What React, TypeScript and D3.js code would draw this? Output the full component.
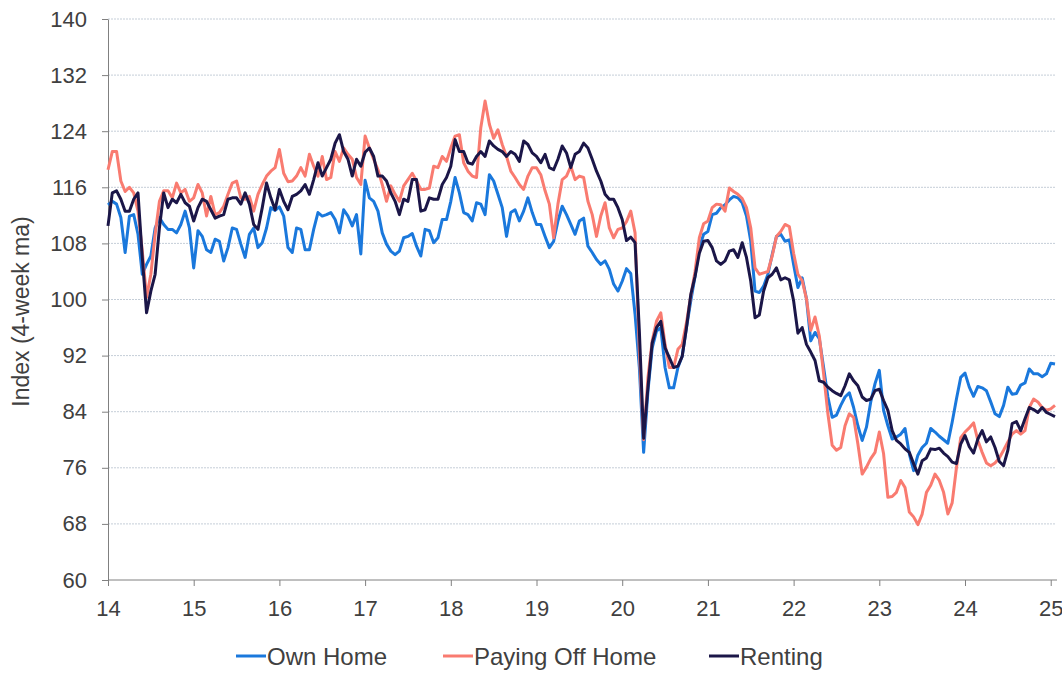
import React, { useEffect, useRef } from "react";
import * as d3 from "d3";

// weekly-ish index readings, one value every 0.05 of a year starting at 2014.0
const step = 0.05;
const startYear = 14;

const ownHome = [
  113.5, 114, 113.6, 111.7, 106.7, 111.9, 112.1, 109.3, 103.6, 105,
  106.2, 110.2, 111.7, 110.7, 110, 110, 109.5, 110.7, 112.6, 110.2,
  104.5, 109.8, 109, 107.1, 106.7, 108.6, 108.3, 105.5, 107.4, 110.2,
  110, 107.9, 106, 109.3, 110.2, 107.4, 108.1, 110.2, 113.1, 112.7,
  113.2, 111.9, 107.4, 106.7, 110.2, 110, 107.1, 107.1, 110, 112.4,
  111.9, 112.1, 112.4, 111.4, 109.5, 112.8, 111.9, 110.5, 112.1, 106.5,
  117, 114.5, 114, 112.6, 109.5, 107.9, 106.9, 106.4, 106.9, 108.8,
  109, 109.4, 107.6, 106.2, 110, 109.8, 108.1, 108.8, 111.4, 111.4,
  114, 117.4, 115.2, 112.4, 112.1, 111.2, 113.8, 113.6, 112.1, 117.8,
  116.9, 115, 113.1, 109, 112.4, 112.8, 111.2, 112.6, 114.5, 112.4,
  110.7, 110.7, 109, 107.4, 108.3, 111.2, 113.3, 112.1, 110.7, 109.3,
  111.2, 111.6, 107.6, 106.7, 105.7, 105, 105.5, 104.3, 102.2, 101.2,
  102.6, 104.4, 103.7, 97.9, 90.3, 78.2, 86.9, 93.1, 95.5, 96,
  90.3, 87.4, 87.4, 90.3, 91.9, 96, 99.8, 103.3, 107.4, 109.3,
  109.7, 112.1, 112.3, 113.1, 113.5, 114.2, 114.7, 114.5, 113.8, 111.9,
  108.3, 101.2, 101, 101.9, 103.6, 106.4, 109, 109.3, 108.3, 108.5,
  105, 101.7, 103.1, 100.1, 94.1, 95.3, 94.4, 90.3, 86.1, 83.2,
  83.5, 84.9, 86.1, 86.7, 84.6, 82, 79.9, 81.8, 85.4, 88,
  89.9, 84.2, 82, 80.1, 80.4, 80.8, 81.6, 78, 75.6, 77.8,
  78.9, 79.5, 81.6, 81.1, 80.5, 80, 79.5, 82.5, 85.8, 88.9,
  89.5, 87.5, 86.2, 87.6, 87.4, 87, 85.4, 83.7, 83.3, 84.9,
  87.5, 86.5, 86.6, 87.8, 88.1, 90.1, 89.4, 89.4, 89, 89.4,
  90.9, 90.8,
];

const payingOffHome = [
  118.5, 121.1, 121.1, 116.9, 115.4, 116, 115.2, 112.6, 106.9, 100.3,
  103.6, 109.3, 114, 115.5, 115.5, 114.5, 116.6, 115.2, 115.7, 114,
  114.5, 116.4, 115.2, 111.9, 114.7, 112.1, 112.4, 113.3, 115, 116.6,
  116.9, 114.5, 114.3, 114.7, 112.6, 115, 116.4, 117.6, 118.3, 118.8,
  121.4, 118, 116.8, 116.9, 117.6, 118.8, 117.6, 120.7, 119, 117.6,
  120.4, 117.1, 117.4, 121.1, 119.7, 121.6, 120.7, 120, 117.4, 116.4,
  123.3, 121.6, 120, 118.5, 116.4, 114, 116.2, 115, 114, 116.2,
  117.1, 118, 116.9, 115.7, 115.7, 115.9, 119, 118.8, 120.4, 119.7,
  121.6, 123.3, 123.5, 119.5, 118.3, 117.6, 117.4, 124.5, 128.3, 125,
  123, 124.2, 122.1, 120.4, 118.3, 117.4, 116.4, 115.7, 117.6, 118.8,
  118.8, 117.8, 115.5, 113.6, 108.8, 113.6, 117.1, 117.6, 119, 117.1,
  117.6, 117.4, 114, 112.1, 109, 111.9, 113.8, 110.2, 108.8, 110,
  110.2, 111.1, 112.6, 109.5, 92.6, 80, 88.8, 94.1, 96.9, 98.1,
  93.6, 90.3, 90.3, 92.9, 93.6, 96.7, 100.5, 104, 108.8, 110.8,
  111.2, 113.1, 113.6, 113.5, 112.6, 115.9, 115.4, 115, 114.4, 113.1,
  110.2, 104.5, 103.6, 103.8, 104, 106.2, 109, 109.7, 110.7, 110.4,
  106.6, 103.6, 102.7, 100.1, 95.6, 97.5, 94.8, 89.4, 83.7, 79.2,
  78.5, 78.9, 82, 83.7, 83.2, 79.4, 75.1, 76.1, 77.3, 78.2,
  81.1, 78, 71.8, 71.9, 72.5, 74.2, 73.2, 69.7, 69, 67.9,
  69.4, 72.5, 73.5, 75.1, 74.2, 72.5, 69.4, 71, 76, 80.3,
  81.1, 81.7, 82.4, 79.9, 78.2, 76.7, 76.3, 76.7, 77.4, 78.5,
  79.7, 80.8, 81.3, 80.8, 81.3, 84.6, 85.8, 85.4, 84.6, 84.2,
  84.4, 84.9,
];

const renting = [
  110.5, 115.2, 115.5, 114.3, 112.6, 112.6, 114.3, 115.2, 106, 98.1,
  101.2, 103.6, 110.2, 115.2, 113.1, 114.3, 113.8, 115, 113.8, 113.3,
  111.2, 113.1, 114.3, 114, 112.8, 111.6, 111.9, 112.1, 114.3, 114.5,
  114.5, 113.6, 115.2, 113.6, 110.7, 110, 113.1, 116.6, 114.5, 112.8,
  115.7, 114, 112.8, 114.7, 115, 115.5, 116.4, 115, 117.1, 119.5,
  117.6, 118.8, 120, 122.3, 123.5, 121.1, 120, 117.6, 120, 119,
  121, 121.6, 120.4, 117.6, 117.6, 116.9, 115.2, 114, 112.1, 114.3,
  114, 117.1, 117.1, 112.6, 112.8, 114.5, 114.3, 114.3, 116.4, 117.4,
  119, 122.8, 121.1, 121.1, 119.5, 119.3, 120.4, 121.1, 120.4, 122.6,
  121.9, 121.4, 121.1, 120.4, 121.1, 120.7, 119.7, 122.6, 122.1, 120.9,
  120.4, 119.5, 120.7, 118.8, 118.5, 120, 121.9, 120.9, 118.8, 120.7,
  121.1, 122.3, 121.6, 120, 118.3, 116.9, 115, 114.3, 114.3, 113.1,
  111.4, 108.4, 108.9, 108.1, 95.5, 80.2, 87.4, 93.8, 96, 96.9,
  93.1, 91.7, 90.3, 90.5, 91.9, 96, 100.7, 103.3, 106.6, 108.3,
  108.4, 107.4, 105.5, 105, 105.5, 106.9, 107.1, 106, 108.1, 106,
  102.6, 97.4, 97.8, 101.2, 103.1, 103.6, 104.5, 102.8, 103.1, 102.8,
  99.8, 95.2, 96, 93.6, 92.5, 91.3, 88.4, 88.2, 87.5, 87,
  86.6, 86.3, 87.7, 89.4, 88.4, 87.7, 86.1, 85.6, 85.8, 87,
  87.2, 85.6, 84.2, 81.3, 79.9, 79.4, 78.7, 78.2, 76.6, 75.1,
  77, 77.4, 78.7, 78.6, 78.8, 78.1, 77.6, 76.8, 76.6, 79.4,
  80.6, 79, 78.1, 80.1, 81.3, 79.7, 80.4, 78.9, 76.9, 76.3,
  78.5, 82.3, 82.6, 81.3, 83, 84.6, 84.3, 83.9, 84.6, 83.9,
  83.6, 83.3,
];

const xTicks = [14, 15, 16, 17, 18, 19, 20, 21, 22, 23, 24, 25];
const yTicks = [60, 68, 76, 84, 92, 100, 108, 116, 124, 132, 140];

const seriesNames = ["Own Home", "Paying Off Home", "Renting"];
const seriesColors = ["#1a78dc", "#f97b70", "#1b1648"];
const seriesValues = [ownHome, payingOffHome, renting];

function Chart() {
  const svgRef = useRef<SVGSVGElement>(null);

  useEffect(() => {
    const w = 1062;
    const h = 673;
    const left = 108;
    const right = 1055;
    const top = 19;
    const bottom = 580;
    const font = "'Liberation Sans', Arial, sans-serif";
    const textColor = "#404040";

    const svg = d3.select(svgRef.current).attr("width", w).attr("height", h);
    svg.selectAll("*").remove();

    const x = d3.scaleLinear().domain([14, 25.05]).range([left, right]);
    const y = d3.scaleLinear().domain([60, 140]).range([bottom, top]);

    // gridlines
    svg
      .append("g")
      .selectAll("line")
      .data(yTicks.slice(1))
      .join("line")
      .attr("x1", left)
      .attr("x2", right)
      .attr("y1", (d) => y(d))
      .attr("y2", (d) => y(d))
      .attr("stroke", "#c5ced8")
      .attr("stroke-width", 1)
      .attr("stroke-dasharray", "2,1");

    // y axis
    const yAxis = d3.axisLeft(y).tickValues(yTicks).tickSize(6).tickPadding(15).tickSizeOuter(0);
    const gy = svg.append("g").attr("transform", `translate(${left},0)`).call(yAxis);
    gy.selectAll("line").attr("stroke", "#808080");
    gy.select(".domain").attr("stroke", "#808080");
    gy.selectAll("text")
      .style("font-family", font)
      .style("font-size", "22px")
      .attr("fill", textColor);

    // x axis
    const xAxis = d3
      .axisBottom(x)
      .tickValues(xTicks)
      .tickFormat(d3.format("d"))
      .tickSize(6)
      .tickPadding(14)
      .tickSizeOuter(0);
    const gx = svg.append("g").attr("transform", `translate(0,${bottom})`).call(xAxis);
    gx.selectAll("line").attr("stroke", "#808080");
    gx.select(".domain").attr("stroke", "#808080").attr("d", `M${left},0H${right + 2}`);
    gx.selectAll("text")
      .style("font-family", font)
      .style("font-size", "22px")
      .attr("fill", textColor);

    // y title
    svg
      .append("text")
      .attr("transform", `translate(29,${(top + bottom) / 2 + 12}) rotate(-90)`)
      .attr("text-anchor", "middle")
      .style("font-family", font)
      .style("font-size", "23px")
      .attr("fill", textColor)
      .text("Index (4-week ma)");

    // lines
    const line = d3
      .line<number>()
      .x((_, i) => x(startYear + i * step))
      .y((d) => y(d))
      .curve(d3.curveLinear);

    svg
      .append("g")
      .selectAll("path")
      .data(seriesValues)
      .join("path")
      .attr("d", (d) => line(d))
      .attr("fill", "none")
      .attr("stroke", (_, i) => seriesColors[i])
      .attr("stroke-width", 3)
      .attr("stroke-linejoin", "round");

    // legend
    const legendX = [236, 443, 709];
    const lg = svg
      .append("g")
      .selectAll("g")
      .data(seriesNames)
      .join("g")
      .attr("transform", (_, i) => `translate(${legendX[i]},656)`);
    lg.append("line")
      .attr("x1", 0)
      .attr("x2", 30)
      .attr("stroke", (_, i) => seriesColors[i])
      .attr("stroke-width", 3);
    lg.append("text")
      .attr("x", 31)
      .attr("y", 9)
      .style("font-family", font)
      .style("font-size", "24px")
      .attr("fill", textColor)
      .text((d) => d);
  }, []);

  return <svg ref={svgRef} style={{ position: "absolute", left: 0, top: 0 }}></svg>;
}

export default function App() {
  return <Chart />;
}
